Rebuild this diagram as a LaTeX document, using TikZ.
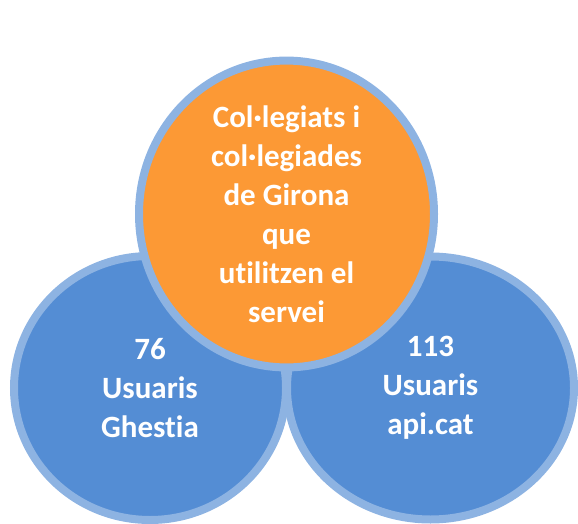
\documentclass[tikz,border=0pt]{standalone}
\usepackage{fontspec}
\setmainfont[Ligatures={NoCommon}]{Carlito}
\usetikzlibrary{shapes.geometric}
\definecolor{bluefill}{RGB}{84,141,212}
\definecolor{blueedge}{RGB}{141,179,226}
\definecolor{orangefill}{RGB}{252,153,53}
\tikzset{
  bubble/.style={ellipse, draw=blueedge, line width=8pt, inner sep=0pt,
    text=white, align=center, font=\bfseries\fontsize{31}{39}\selectfont},
  bluebubble/.style={bubble, fill=bluefill},
  orangebubble/.style={bubble, fill=orangefill}
}
\begin{document}
\begin{tikzpicture}[x=1pt,y=-1pt]
\useasboundingbox (0,0) rectangle (578,524);
\node[bluebubble, minimum width=272pt, minimum height=264pt] (ghestia) at (150,388)
  {76\\Usuaris\\Ghestia};
\node[bluebubble, minimum width=287pt, minimum height=263pt] (apicat) at (430.5,388)
  {113\\Usuaris\\api.cat};
\node[orangebubble, minimum width=295pt, minimum height=261pt] (girona) at (286.5,214)
  {Col·legiats i\\col·legiades\\de Girona\\que\\utilitzen el\\servei};
\end{tikzpicture}
\end{document}
